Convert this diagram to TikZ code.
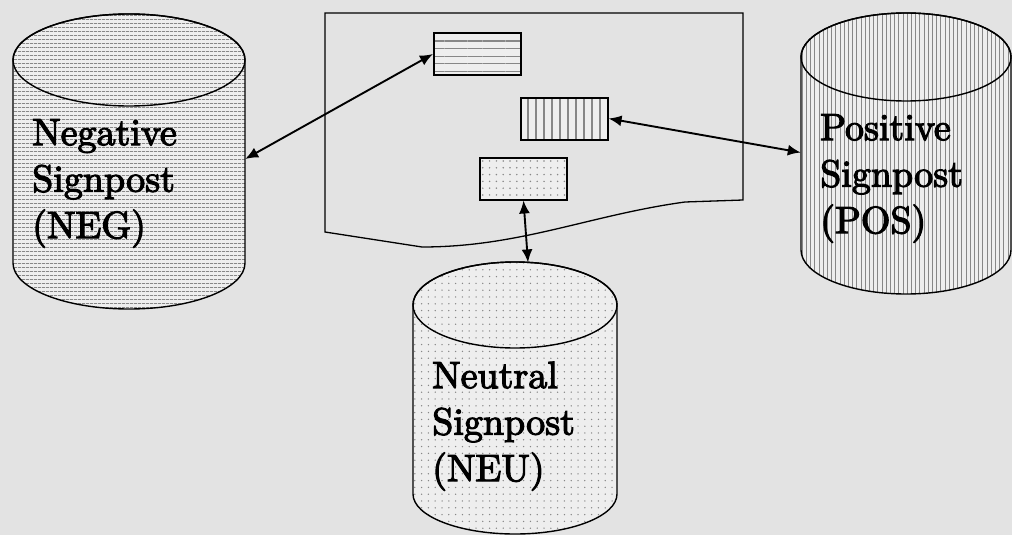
\documentclass[tikz,border=0pt]{standalone}
\usepackage{fontspec}
\newfontfamily\lblfont{lmroman10-regular}[Extension=.otf, FakeBold=3]
\usetikzlibrary{arrows.meta,patterns.meta}
\definecolor{bgc}{RGB}{227,227,227}
\definecolor{cylbase}{RGB}{238,238,238}
\definecolor{patc}{RGB}{135,135,135}
\begin{document}
\begin{tikzpicture}[x=1pt,y=-1pt,
  cylout/.style={draw=black, line width=1.4pt},
  hpat/.style={pattern={Lines[angle=0,distance=4pt,line width=0.9pt]}, pattern color=patc},
  vpat/.style={pattern={Lines[angle=90,distance=4.2pt,line width=0.9pt]}, pattern color=patc},
  dpat/.style={pattern={Dots[distance=6.8pt,radius=0.75pt]}, pattern color=patc},
  hpats/.style={pattern={Lines[angle=0,distance=7.6pt,line width=1.1pt]}, pattern color=patc},
  vpats/.style={pattern={Lines[angle=90,distance=8pt,line width=1.1pt]}, pattern color=patc},
  dpats/.style={pattern={Dots[distance=6.8pt,radius=0.85pt]}, pattern color=patc},
  smallbox/.style={draw=black, line width=2pt, inner sep=0pt, minimum width=87pt, minimum height=42pt, preaction={fill=cylbase}},
  hidden/.style={inner sep=0pt, draw=none},
  lbl/.style={anchor=north west, inner sep=0pt, align=left, font=\lblfont\fontsize{38}{46.5}\selectfont},
  biarrow/.style={line width=1.9pt, {Latex[length=13pt,width=11pt]}-{Latex[length=13pt,width=11pt]}},
  docframe/.style={draw=black, line width=1.3pt}
]
\useasboundingbox (0,0) rectangle (1012,535);
\fill[bgc] (0,0) rectangle (1012,535);

% ---------- NEG cylinder
\path[fill=cylbase] (13,60) -- (13,263) arc[start angle=180,end angle=0,x radius=116,y radius=46] -- (245,60) arc[start angle=0,end angle=-180,x radius=116,y radius=46] -- cycle;
\path[hpat] (13,60) -- (13,263) arc[start angle=180,end angle=0,x radius=116,y radius=46] -- (245,60) arc[start angle=0,end angle=-180,x radius=116,y radius=46] -- cycle;
\path[cylout] (13,60) -- (13,263) arc[start angle=180,end angle=0,x radius=116,y radius=46] -- (245,60) arc[start angle=0,end angle=-180,x radius=116,y radius=46] -- cycle;
\draw[cylout] (129,60) ellipse[x radius=116,y radius=46];
\node[hidden, minimum width=232pt, minimum height=203pt] (neg) at (129,159) {};
\node[lbl] (negtxt) at (32,119) {Negative\\Signpost\\(NEG)};

% ---------- POS cylinder
\path[fill=cylbase] (801,57) -- (801,250) arc[start angle=180,end angle=0,x radius=105,y radius=44] -- (1011,57) arc[start angle=0,end angle=-180,x radius=105,y radius=44] -- cycle;
\path[vpat] (801,57) -- (801,250) arc[start angle=180,end angle=0,x radius=105,y radius=44] -- (1011,57) arc[start angle=0,end angle=-180,x radius=105,y radius=44] -- cycle;
\path[cylout] (801,57) -- (801,250) arc[start angle=180,end angle=0,x radius=105,y radius=44] -- (1011,57) arc[start angle=0,end angle=-180,x radius=105,y radius=44] -- cycle;
\draw[cylout] (906,57) ellipse[x radius=105,y radius=44];
\node[hidden, minimum width=210pt, minimum height=193pt] (pos) at (906,152.5) {};
\node[lbl] (postxt) at (820,114) {Positive\\Signpost\\(POS)};

% ---------- NEU cylinder
\path[fill=cylbase] (413,305) -- (413,494) arc[start angle=180,end angle=0,x radius=102,y radius=40] -- (617,305) arc[start angle=0,end angle=-180,x radius=102,y radius=43] -- cycle;
\path[dpat] (413,305) -- (413,494) arc[start angle=180,end angle=0,x radius=102,y radius=40] -- (617,305) arc[start angle=0,end angle=-180,x radius=102,y radius=43] -- cycle;
\path[cylout] (413,305) -- (413,494) arc[start angle=180,end angle=0,x radius=102,y radius=40] -- (617,305) arc[start angle=0,end angle=-180,x radius=102,y radius=43] -- cycle;
\draw[cylout] (515,305) ellipse[x radius=102,y radius=43];
\coordinate (neutop) at (528,262.4);
\node[lbl] (neutxt) at (432,361.5) {Neutral\\Signpost\\(NEU)};

% ---------- document frame
\draw[docframe] (743,200) -- (743,13) -- (325,13) -- (325,232) -- (422,247)
  .. controls (520,247) and (590,215) .. (685,202) -- cycle;

% ---------- small boxes
\node[smallbox, hpats] (hbox) at (477,54) {};
\node[smallbox, vpats] (vbox) at (564.5,118.5) {};
\node[smallbox, dpats] (dbox) at (523.5,178.5) {};

% ---------- connectors
\draw[biarrow] (neg.east) -- (hbox.west);
\draw[biarrow] (vbox.east) -- (pos.west);
\draw[biarrow] (dbox.south) -- (neutop);
\end{tikzpicture}
\end{document}
